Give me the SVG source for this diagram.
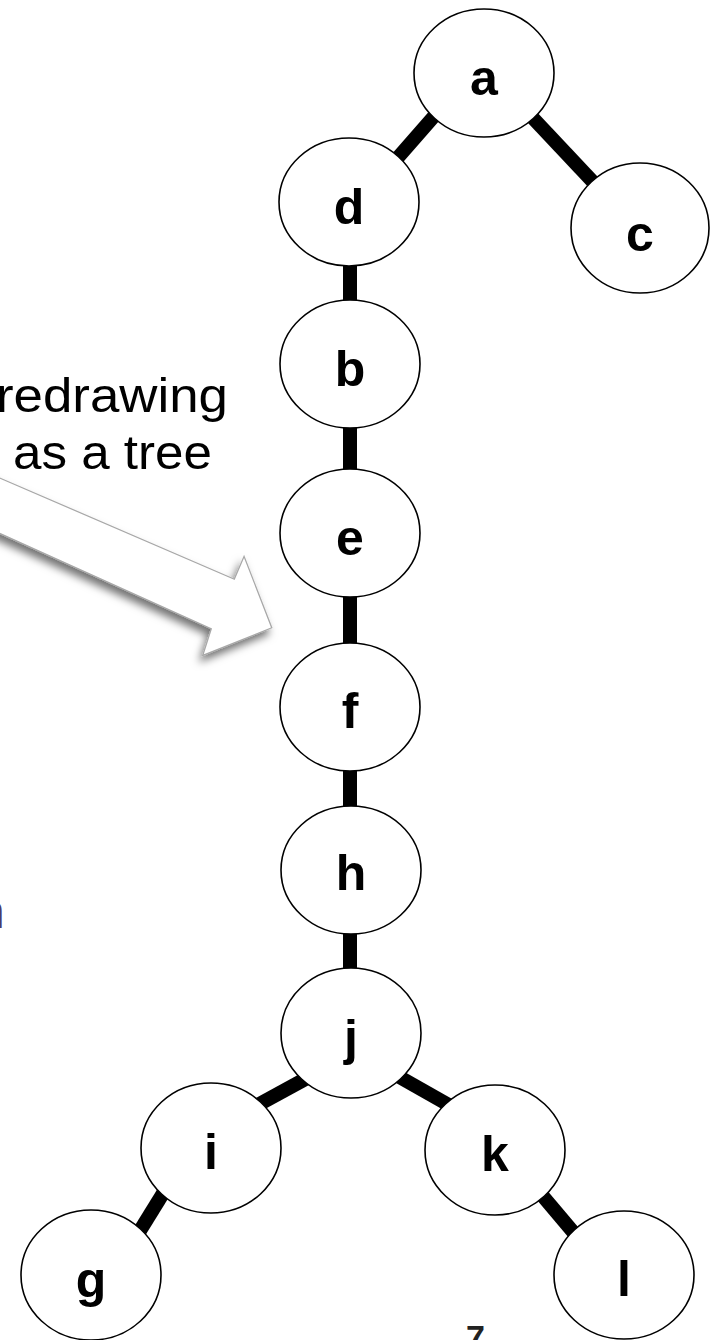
<svg xmlns="http://www.w3.org/2000/svg" width="710" height="1340" viewBox="0 0 710 1340">
<defs>
<style>
.node ellipse{fill:#fff;stroke:#000;stroke-width:1.6}
.node text{font-family:"Liberation Sans",Arial,sans-serif;font-weight:bold;font-size:50px;fill:#000;text-anchor:middle}
.edge{stroke:#000;stroke-width:14;stroke-linecap:butt;fill:none}
.note{font-family:"Liberation Sans",Arial,sans-serif;font-size:48px;fill:#000}
</style>
<filter id="shadow" x="-20%" y="-40%" width="140%" height="180%">
<feDropShadow dx="-3" dy="6" stdDeviation="4" flood-color="#000" flood-opacity="0.55"/>
</filter>
</defs>
<rect width="710" height="1340" fill="#fff"/>

<text class="note" x="-4" y="412" textLength="232" lengthAdjust="spacingAndGlyphs">redrawing</text>
<text class="note" x="13" y="469" textLength="199" lengthAdjust="spacingAndGlyphs">as a tree</text>
<text x="-22" y="928" style="font-family:'Liberation Sans',Arial,sans-serif;font-size:48px;fill:#4b3b6b">n</text>

<g id="arrow">
<polygon points="-20,471 235,581 244,560 270,627 205,653 213,628 -20,523" fill="#fff" stroke="#a8a8a8" stroke-width="4" stroke-linejoin="miter" filter="url(#shadow)"/>
<polygon points="-20,471 235,581 244,560 270,627 205,653 213,628 -20,523" fill="#fff" stroke="#fff" stroke-width="1.5" stroke-linejoin="miter"/>
</g>

<g id="connectors">
<line class="edge" x1="450" y1="98" x2="380" y2="178"/>
<line class="edge" x1="515" y1="99" x2="610" y2="200"/>
<line class="edge" x1="350" y1="202" x2="350" y2="1033"/>
<line class="edge" x1="320" y1="1071" x2="245" y2="1112"/>
<line class="edge" x1="380" y1="1066" x2="470" y2="1117"/>
<line class="edge" x1="175" y1="1174" x2="128" y2="1250"/>
<line class="edge" x1="525" y1="1175" x2="590" y2="1252"/>
</g>

<g id="node-a" class="node"><ellipse cx="484" cy="73" rx="70" ry="64"/><text x="484" y="95">a</text></g>
<g id="node-d" class="node"><ellipse cx="349" cy="202" rx="70" ry="64"/><text x="349" y="224">d</text></g>
<g id="node-c" class="node"><ellipse cx="640" cy="228" rx="69" ry="65"/><text x="640" y="251">c</text></g>
<g id="node-b" class="node"><ellipse cx="350" cy="364" rx="70" ry="64"/><text x="350" y="386">b</text></g>
<g id="node-e" class="node"><ellipse cx="350" cy="533" rx="70" ry="64"/><text x="350" y="555">e</text></g>
<g id="node-f" class="node"><ellipse cx="350" cy="707" rx="70" ry="64"/><text x="350" y="728">f</text></g>
<g id="node-h" class="node"><ellipse cx="351" cy="870" rx="70" ry="64"/><text x="351" y="890">h</text></g>
<g id="node-j" class="node"><ellipse cx="351" cy="1033" rx="70" ry="65"/><text x="351" y="1055">j</text></g>
<g id="node-i" class="node"><ellipse cx="211" cy="1148" rx="70" ry="65"/><text x="211" y="1169">i</text></g>
<g id="node-k" class="node"><ellipse cx="495" cy="1150" rx="70" ry="65"/><text x="495" y="1171">k</text></g>
<g id="node-g" class="node"><ellipse cx="91" cy="1275" rx="70" ry="65"/><text x="91" y="1297">g</text></g>
<g id="node-l" class="node"><ellipse cx="624" cy="1275" rx="70" ry="64"/><text x="624" y="1296">l</text></g>

<text x="466" y="1349" style="font-family:'Liberation Sans',Arial,sans-serif;font-weight:bold;font-size:34px;fill:#222">7</text>
</svg>
